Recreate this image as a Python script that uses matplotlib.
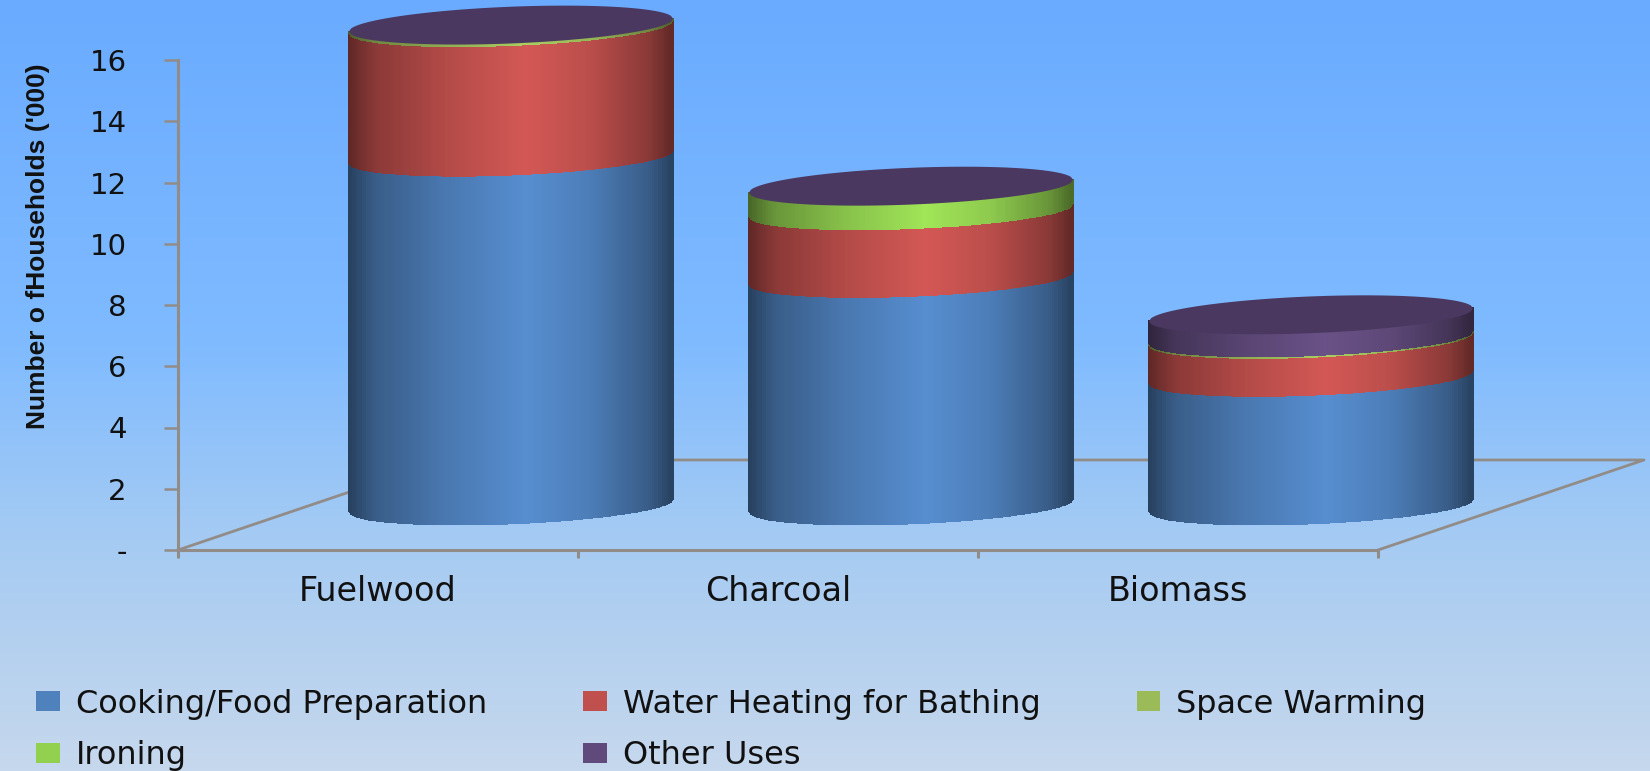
import numpy as np
import matplotlib
matplotlib.use("Agg")
import matplotlib.pyplot as plt
from matplotlib.colors import LinearSegmentedColormap, to_rgb
from matplotlib.patches import Patch

categories = ["Fuelwood", "Charcoal", "Biomass"]
series_names = ["Cooking/Food Preparation", "Water Heating for Bathing", "Space Warming", "Ironing", "Other Uses"]
cooking = [11.39, 7.43, 4.20]
water = [4.23, 2.21, 1.24]
space = [0.05, 0.0, 0.05]
ironing = [0.0, 0.77, 0.0]
other = [0.0, 0.0, 0.72]
series_colors = ["#4F81BD", "#C0504D", "#9BBB59", "#92D050", "#604A7B"]
yticks = [0, 2, 4, 6, 8, 10, 12, 14, 16]
ytick_labels = ["-", "2", "4", "6", "8", "10", "12", "14", "16"]

GREY = "#918C88"
W, H = 1650, 771
# 3d look of the floor, in axis units
depth_x, depth_y = 0.665, 2.94
half_w = 0.405
tilt = 0.21
cap_b = 0.6
base_y = 1.47

fig = plt.figure(figsize=(W / 100, H / 100), dpi=100)

# background gradient
bg = fig.add_axes([0, 0, 1, 1], zorder=0)
bg_cmap = LinearSegmentedColormap.from_list("bg", [(0, "#6AABFF"), (0.45, "#80BBFF"), (0.7, "#A5CBF3"),
                                                   (0.85, "#B6D1EF"), (1, "#C6D8ED")])
bg.imshow(np.linspace(0, 1, 256).reshape(-1, 1), cmap=bg_cmap, aspect="auto", vmin=0, vmax=1)
bg.axis("off")

ax = fig.add_axes([178 / W, (H - 550) / H, 1200 / W, 490 / H], zorder=1)
ax.patch.set_alpha(0)


def shade(color):
    r = np.array(to_rgb(color))
    stops = [(0, 0.5), (0.08, 0.72), (0.3, 0.93), (0.55, 1.1), (0.75, 0.97), (0.93, 0.72), (1, 0.52)]
    return LinearSegmentedColormap.from_list("s", [(p, tuple(np.clip(r * m, 0, 1))) for p, m in stops])


t = np.linspace(-1, 1, 161)
round_part = np.sqrt(1 - t ** 2)
shades = np.linspace(0, 1, 160).reshape(1, -1)

# floor lines
x0, x1 = 0, 3
ax.plot([x0, x0 + depth_x, x1 + depth_x, x1], [0, depth_y, depth_y, 0], color=GREY, lw=2, clip_on=False, zorder=2)

stack = np.array([cooking, water, space, ironing, other])
for i in range(len(categories)):
    cx = i + 0.5 + depth_x / 2
    xs = cx + half_w * t
    bottom = base_y
    for j in range(len(series_names)):
        v = stack[j][i]
        if v <= 0:
            continue
        top = bottom + v
        low = bottom + tilt * t - cap_b * round_part
        high = top + tilt * t - cap_b * round_part
        ax.pcolormesh(np.array([xs, xs]), np.array([low, high]), shades, cmap=shade(series_colors[j]), vmin=0, vmax=1,
                      shading="flat", edgecolors="face", linewidth=0.2, clip_on=False, zorder=3)
        bottom = top
    cap_x = np.r_[xs, xs[::-1]]
    cap_y = np.r_[bottom + tilt * t - cap_b * round_part, (bottom + tilt * t + cap_b * round_part)[::-1]]
    ax.fill(cap_x, cap_y, color="#4A3860", lw=0, zorder=4, clip_on=False)

ax.set_xlim(0, 3)
ax.set_ylim(0, 16)
for s in ["top", "right"]:
    ax.spines[s].set_visible(False)
for s in ["left", "bottom"]:
    ax.spines[s].set_color(GREY)
    ax.spines[s].set_linewidth(2.2)
ax.set_yticks(yticks)
ax.set_yticklabels(ytick_labels, fontsize=21, color="#111111")
ax.tick_params(axis="y", length=10, width=1.8, color=GREY, pad=27)
ax.set_xticks([0, 1, 2, 3])
ax.set_xticklabels([])
ax.set_xticks([0.5, 1.5, 2.5], minor=True)
ax.set_xticklabels(categories, minor=True, fontsize=24, color="#111111")
ax.tick_params(axis="x", which="major", length=6, width=2.2, color=GREY)
ax.tick_params(axis="x", which="minor", length=0, pad=18)

ax.set_ylabel("Number o fHouseholds ('000)", fontsize=19, fontweight="bold",
              family=["Liberation Sans Narrow", "Liberation Sans"], color="#111111")
ax.yaxis.set_label_coords((50 - 178) / 1200, (550 - 246) / 490)

# legend fills by column, so order the handles to read row by row
order = [0, 3, 1, 4, 2]
handles = [Patch(fc=series_colors[k], ec="none") for k in order]
labels = [series_names[k] for k in order]
fig.legend(handles, labels, ncol=3, loc="lower left", bbox_to_anchor=(36 / W, 0), frameon=False,
           fontsize=23, handlelength=0.75, handleheight=0.6, handletextpad=0.5, labelspacing=0.64,
           columnspacing=3.0, labelcolor="#111111", borderpad=0, borderaxespad=0)

fig.savefig("out.png", dpi=100)
